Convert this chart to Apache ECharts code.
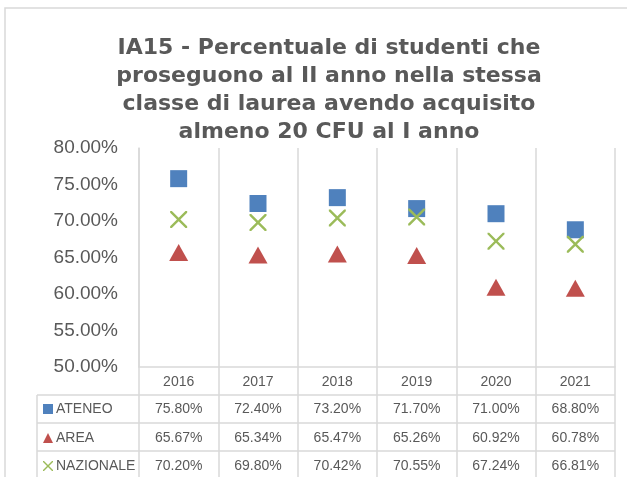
<!DOCTYPE html>
<html>
<head>
<meta charset="utf-8">
<script src="https://cdn.jsdelivr.net/npm/echarts@6/dist/echarts.min.js"></script>
<style>
  html, body { margin: 0; padding: 0; background: #fff; }
  #chart { width: 627px; height: 477px; }
</style>
</head>
<body>
<div id="chart"></div>
<script>
// dati
var anni = ['2016', '2017', '2018', '2019', '2020', '2021'];
var ateneo = [75.80, 72.40, 73.20, 71.70, 71.00, 68.80];
var area = [65.67, 65.34, 65.47, 65.26, 60.92, 60.78];
var nazionale = [70.20, 69.80, 70.42, 70.55, 67.24, 66.81];
var serieNomi = ['ATENEO', 'AREA', 'NAZIONALE'];
var yTicks = [50, 55, 60, 65, 70, 75, 80];

var grigio = '#d9d9d9';
var testo = '#595959';
var xPath = 'path://M0,0L2,0L10,8L18,0L20,0L20,2L12,10L20,18L20,20L18,20L10,12L2,20L0,20L0,18L8,10L0,2Z';

function pct(v) { return v.toFixed(2) + '%'; }

// assi extra per le righe della tabella dati
function rigaTabella(valori, offset) {
    return {
        type: 'category',
        gridIndex: 0,
        position: 'bottom',
        offset: offset,
        data: valori.map(pct),
        axisLine: { show: false },
        axisTick: { show: false },
        splitLine: { show: false },
        axisLabel: { color: testo, fontSize: 14, fontFamily: 'Liberation Sans', margin: 7 }
    };
}

// una legenda per ogni riga della tabella
function legendaRiga(nome, top) {
    return {
        orient: 'vertical',
        left: 43,
        top: top,
        padding: 0,
        itemWidth: 10,
        itemHeight: 10,
        itemGap: 4,
        textStyle: { color: testo, fontSize: 14, fontFamily: 'Liberation Sans', padding: [0, 0, 0, -2] },
        data: [nome]
    };
}

var chart = echarts.init(document.getElementById('chart'));

chart.setOption({
    animation: false,
    backgroundColor: '#fff',
    title: {
        text: 'IA15 - Percentuale di studenti che\nproseguono al II anno nella stessa\nclasse di laurea avendo acquisito\nalmeno 20 CFU al I anno',
        left: 329,
        top: 34,
        padding: 0,
        textAlign: 'center',
        textStyle: {
            fontFamily: 'DejaVu Sans',
            fontWeight: 'bold',
            fontSize: 22,
            lineHeight: 28,
            color: testo
        }
    },
    legend: [
        legendaRiga(serieNomi[0], 402),
        legendaRiga(serieNomi[1], 431),
        legendaRiga(serieNomi[2], 459)
    ],
    grid: { left: 139, right: 12, top: 148, bottom: 110 },
    xAxis: [
        {
            type: 'category',
            data: anni,
            boundaryGap: true,
            axisLine: { show: true, lineStyle: { color: grigio, width: 1.5 } },
            axisTick: { show: true, length: 110, lineStyle: { color: grigio, width: 1.5 } },
            splitLine: { show: true, lineStyle: { color: grigio, width: 1.5 } },
            axisLabel: { color: testo, fontSize: 14, fontFamily: 'Liberation Sans', margin: 8 }
        },
        rigaTabella(ateneo, 28),
        rigaTabella(area, 57),
        rigaTabella(nazionale, 85)
    ],
    yAxis: {
        type: 'value',
        min: yTicks[0],
        max: yTicks[yTicks.length - 1],
        interval: 5,
        axisLine: { show: true, lineStyle: { color: grigio, width: 1.5 } },
        axisTick: { show: false },
        splitLine: { show: false },
        axisLabel: {
            color: testo,
            fontSize: 19,
            fontFamily: 'Liberation Sans',
            margin: 21,
            formatter: function (v) { return pct(v); }
        }
    },
    series: [
        {
            name: serieNomi[0],
            type: 'scatter',
            symbol: 'rect',
            symbolSize: 17,
            itemStyle: { color: '#4f81bd', opacity: 1 },
            data: ateneo
        },
        {
            name: serieNomi[1],
            type: 'scatter',
            symbol: 'triangle',
            symbolSize: [19, 17],
            itemStyle: { color: '#c0504d', opacity: 1 },
            data: area
        },
        {
            name: serieNomi[2],
            type: 'scatter',
            symbol: xPath,
            symbolSize: 17,
            itemStyle: { color: '#9bbb59', opacity: 1 },
            data: nazionale
        }
    ],
    graphic: [
        // bordo esterno del grafico
        { type: 'rect', z: -10, shape: { x: 5, y: 8, width: 700, height: 600 }, style: { fill: 'none', stroke: grigio, lineWidth: 1.5 } },
        // righe orizzontali della tabella
        { type: 'line', shape: { x1: 37, y1: 395, x2: 615, y2: 395 }, style: { stroke: grigio, lineWidth: 1.5 } },
        { type: 'line', shape: { x1: 37, y1: 423, x2: 615, y2: 423 }, style: { stroke: grigio, lineWidth: 1.5 } },
        { type: 'line', shape: { x1: 37, y1: 451, x2: 615, y2: 451 }, style: { stroke: grigio, lineWidth: 1.5 } },
        // bordo sinistro della colonna legenda
        { type: 'line', shape: { x1: 37, y1: 395, x2: 37, y2: 477 }, style: { stroke: grigio, lineWidth: 1.5 } }
    ]
});
</script>
</body>
</html>
